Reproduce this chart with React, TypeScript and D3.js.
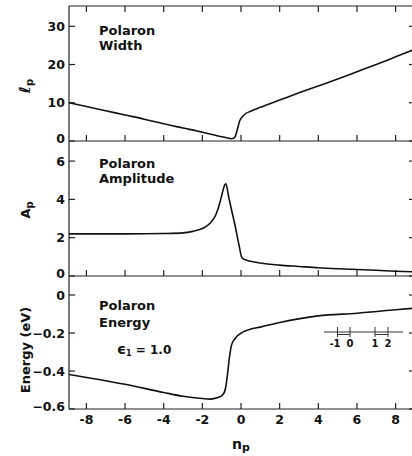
import * as d3 from "d3";

// polaron width l_p vs n_p
const widthN = [-8.9, -8, -7, -6, -5, -4, -3, -2, -1.5, -1, -0.7, -0.5, -0.38, -0.28, -0.18, -0.08, 0.05, 0.2, 0.5, 1, 2, 3, 4, 5, 6, 7, 8, 8.9];
const widthV = [10.0, 9.0, 7.9, 6.8, 5.7, 4.5, 3.4, 2.3, 1.7, 1.1, 0.8, 0.6, 0.7, 1.4, 3.2, 5.1, 6.2, 7.0, 7.8, 8.8, 10.7, 12.6, 14.4, 16.2, 18.1, 20.0, 22.0, 23.8];

// polaron amplitude A_p
const ampN = [-8.9, -6, -4, -3, -2.5, -2, -1.6, -1.3, -1.1, -0.95, -0.85, -0.78, -0.65, -0.5, -0.3, -0.1, 0.05, 0.2, 0.5, 1, 2, 3, 4, 5, 6, 7, 8, 8.9];
const ampV = [2.2, 2.2, 2.22, 2.25, 2.33, 2.48, 2.75, 3.2, 3.8, 4.4, 4.75, 4.82, 4.2, 3.5, 2.6, 1.6, 0.95, 0.86, 0.77, 0.68, 0.57, 0.5, 0.43, 0.38, 0.34, 0.3, 0.25, 0.22];

// polaron energy (eV)
const enN = [-8.9, -6, -4, -3, -2, -1.6, -1.2, -0.92, -0.78, -0.69, -0.6, -0.48, -0.31, -0.05, 0.47, 1, 2, 4, 6, 8, 8.9];
const enV = [-0.418, -0.47, -0.513, -0.533, -0.545, -0.548, -0.54, -0.522, -0.479, -0.41, -0.33, -0.26, -0.23, -0.204, -0.18, -0.169, -0.145, -0.11, -0.096, -0.078, -0.07];

const xTicks = [-8, -6, -4, -2, 0, 2, 4, 6, 8];
const widthTicks = [0, 10, 20, 30];
const ampTicks = [0, 2, 4, 6];
const enTicks = [-0.6, -0.4, -0.2, 0];
const insetLabels = ["-1", "0", "1", "2"];
const insetOffsets = [0, 12.5, 37.5, 50.5];

const FONT = "'DejaVu Sans', sans-serif";
const X0 = 69;
const X1 = 413;
const TK = 6;

const x = d3.scaleLinear().domain([-8.9, 8.9]).range([X0, X1]);

const panels = [
  {
    n: widthN, v: widthV, ticks: widthTicks, fmt: (d: number) => String(d),
    y: d3.scaleLinear().domain([0, 35.3]).range([141, 6]),
    title: ["Polaron", "Width"], titleY: [35, 50],
  },
  {
    n: ampN, v: ampV, ticks: ampTicks, fmt: (d: number) => String(d),
    y: d3.scaleLinear().domain([0, 7.05]).range([276, 141]),
    title: ["Polaron", "Amplitude"], titleY: [168, 183],
  },
  {
    n: enN, v: enV, ticks: enTicks, fmt: (d: number) => (d === 0 ? "0" : d3.format(".1f")(d)),
    y: d3.scaleLinear().domain([-0.6, 0.1]).range([409, 276]),
    title: ["Polaron", "Energy"], titleY: [310, 327],
  },
];

export default function App() {
  return (
    <svg width={412} height={456} style={{ position: "absolute", left: 0, top: 0, background: "#fff" }}
      fontFamily={FONT} fontWeight="bold">
      {panels.map((p, i) => {
        const [yb, yt] = p.y.range();
        const line = d3.line<number>()
          .x((_, k) => x(p.n[k]))
          .y((d) => p.y(d))
          .curve(d3.curveMonotoneX);
        return (
          <g key={i}>
            {/* frame */}
            <line x1={X0} x2={X1} y1={yb} y2={yb} stroke="#222" strokeWidth={1.2} />
            {i === 0 && <line x1={X0} x2={X1} y1={yt} y2={yt} stroke="#222" strokeWidth={1.2} />}
            <line x1={X0} x2={X0} y1={yt} y2={yb} stroke="#222" strokeWidth={1.2} />
            <line x1={X1} x2={X1} y1={yt} y2={yb} stroke="#222" strokeWidth={1.2} />
            {/* x ticks */}
            {xTicks.map((t) => (
              <g key={t}>
                <line x1={x(t)} x2={x(t)} y1={yb} y2={yb - TK} stroke="#222" strokeWidth={1.2} />
                {i === 0 && <line x1={x(t)} x2={x(t)} y1={yt} y2={yt + TK} stroke="#222" strokeWidth={1.2} />}
              </g>
            ))}
            {/* y ticks */}
            {p.ticks.map((t, k) => (
              <g key={t}>
                <line x1={X0} x2={X0 + TK} y1={p.y(t)} y2={p.y(t)} stroke="#222" strokeWidth={1.2} />
                <line x1={X1} x2={X1 - 4} y1={p.y(t)} y2={p.y(t)} stroke="#222" strokeWidth={1.2} />
                <text x={X0 - 4} y={p.y(t) - (k === 0 ? 3 : 0)} dy="0.36em" textAnchor="end" fontSize={12.5} fill="#111">
                  {p.fmt(t)}
                </text>
              </g>
            ))}
            <path d={line(p.v) ?? ""} fill="none" stroke="#111" strokeWidth={1.6} />
            {p.title.map((s, k) => (
              <text key={k} x={99} y={p.titleY[k]} fontSize={13} fill="#111">{s}</text>
            ))}
          </g>
        );
      })}

      {/* x tick labels */}
      {xTicks.map((t) => (
        <text key={t} x={x(t)} y={424} textAnchor="middle" fontSize={12.5} fill="#111">{t}</text>
      ))}
      <text x={241} y={449} textAnchor="middle" fontSize={14} fill="#111">
        n<tspan fontSize={11} dy={2}>p</tspan>
      </text>

      {/* y axis titles */}
      <text transform="translate(30,86) rotate(-90)" textAnchor="middle" fontSize={15} fill="#111">
        <tspan fontStyle="italic">ℓ</tspan><tspan fontSize={10} dy={3}>p</tspan>
      </text>
      <text transform="translate(30,210) rotate(-90)" textAnchor="middle" fontSize={13} fill="#111">
        A<tspan fontSize={10} dy={3}>p</tspan>
      </text>
      <text transform="translate(30,350) rotate(-90)" textAnchor="middle" fontSize={13} fill="#111">
        Energy (eV)
      </text>

      {/* epsilon annotation */}
      <text x={117} y={354} fontSize={12} fill="#111">
        <tspan fontSize={14}>ϵ</tspan>
        <tspan fontSize={8} dy={2}>1</tspan>
        <tspan dy={-2}> = 1.0</tspan>
      </text>

      {/* lattice inset */}
      <g stroke="#333" strokeWidth={1}>
        <line x1={324} x2={403} y1={332} y2={332} />
        {insetOffsets.map((o, k) => (
          <line key={k} x1={337.5 + o} x2={337.5 + o} y1={327} y2={337} />
        ))}
        <line x1={337.5} x2={350} y1={334.5} y2={334.5} />
        <line x1={375} x2={388} y1={334.5} y2={334.5} />
      </g>
      {insetLabels.map((s, k) => (
        <text key={k} x={337.5 + insetOffsets[k] - (k === 0 ? 2.5 : 0)} y={347} textAnchor="middle" fontSize={10} fill="#111">{s}</text>
      ))}
    </svg>
  );
}
